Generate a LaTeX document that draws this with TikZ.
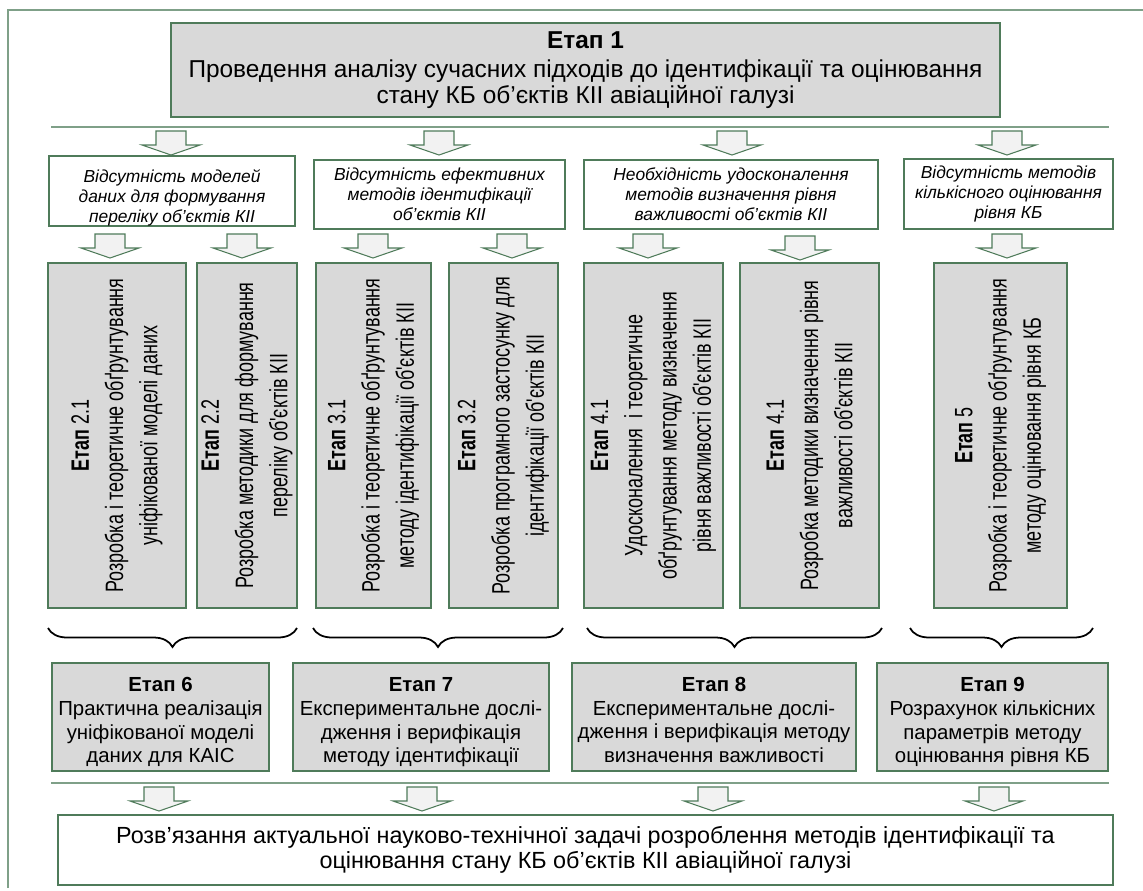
\documentclass[tikz,border=0pt]{standalone}
\usepackage{fontspec}
\setmainfont{Liberation Sans}
\newfontfamily\narrowsans[FakeStretch=0.715]{Liberation Sans}
\usetikzlibrary{decorations.pathreplacing}
\definecolor{boxline}{HTML}{4F7B5A}
\definecolor{sepline}{HTML}{7FA088}
\definecolor{boxfill}{HTML}{D9D9D9}
\definecolor{arrowfill}{HTML}{F2F2F2}

\begin{document}
\begin{tikzpicture}[x=0.02cm,y=-0.02cm]
\tikzstyle{stagebox}=[draw=boxline,fill=boxfill,line width=0.8pt,align=center,inner sep=0pt]
\tikzstyle{probbox}=[draw=boxline,fill=white,line width=0.7pt,align=center,inner sep=0pt,font=\fontsize{9.9}{11.4}\selectfont\itshape]
\tikzstyle{vbox}=[stagebox,rotate=90,minimum width=6.9cm,font=\narrowsans\fontsize{14.3}{19.5}\selectfont]
\tikzstyle{lowbox}=[stagebox,minimum height=2.16cm,font=\fontsize{11.6}{13.5}\selectfont]
\tikzstyle{blockarrow}=[draw=boxline,fill=arrowfill,line width=0.6pt]
\tikzstyle{sep}=[draw=sepline,line width=1pt]
\tikzstyle{groupbrace}=[decorate,decoration={brace,mirror,amplitude=0.38cm},line width=1pt]
\useasboundingbox (0,0) rectangle (1143,890);
\draw[sep] (8,888) -- (8,10) -- (1143,10);

\path (585.5,70) node[stagebox,minimum width=16.58cm,minimum height=1.88cm,font=\fontsize{13.9}{14.6}\selectfont](s1){{\bfseries Етап 1}\\[2.3pt]Проведення аналізу сучасних підходів до ідентифікації та оцінювання\\стану КБ об'єктів КІІ авіаційної галузі};
\draw[sep] (51,127) -- (1109,127);

\path (172,191) node[probbox,minimum width=4.92cm,minimum height=1.24cm](p1){\rule{0pt}{15pt}Відсутність моделей\\даних для формування\\переліку об'єктів КІІ}
 (439.5,194.5) node[probbox,minimum width=5.02cm,minimum height=1.38cm](p2){Відсутність ефективних\\методів ідентифікації\\об'єктів КІІ}
 (731,194.5) node[probbox,minimum width=5.88cm,minimum height=1.38cm](p3){Необхідність удосконалення\\методів визначення рівня\\важливості об'єктів КІІ}
 (1008.5,194) node[probbox,minimum width=4.18cm,minimum height=1.4cm](p4){Відсутність методів\\кількісного оцінювання\\рівня КБ};

\path (117,435.5) node[vbox,minimum height=2.76cm](b21){{\bfseries Етап} 2.1\\Розробка і теоретичне обґрунтування\\уніфікованої моделі даних}
 (247,435.5) node[vbox,minimum height=2cm](b22){{\bfseries Етап} 2.2\\Розробка методики для формування\\переліку об'єктів КІІ}
 (373.5,435.5) node[vbox,minimum height=2.3cm](b31){{\bfseries Етап} 3.1\\Розробка і теоретичне обґрунтування\\методу ідентифікації об'єктів КІІ}
 (503.5,435.5) node[vbox,minimum height=2.18cm](b32){{\bfseries Етап} 3.2\\Розробка програмного застосунку для\\ідентифікації об'єктів КІІ}
 (653.5,435.5) node[vbox,minimum height=2.78cm](b41){{\bfseries Етап} 4.1\\Удосконалення\ \ і теоретичне\\обґрунтування методу визначення\\рівня важливості об'єктів КІІ}
 (809.5,435.5) node[vbox,minimum height=2.78cm](b42){{\bfseries Етап} 4.1\\Розробка методики визначення рівня\\важливості об'єктів КІІ}
 (1000.5,435.5) node[vbox,minimum height=2.66cm](b5){{\bfseries Етап} 5\\Розробка і теоретичне обґрунтування\\методу оцінювання рівня КБ};

\draw[groupbrace] (48,628) -- (297,628);
\draw[groupbrace] (313,628) -- (563,628);
\draw[groupbrace] (587,628) -- (882,628);
\draw[groupbrace] (910,628) -- (1093,628);

\path (160.5,717) node[lowbox,minimum width=4.34cm](s6){\rule{0pt}{14pt}{\bfseries Етап 6}\\Практична реалізація\\уніфікованої моделі\\даних для КАІС}
 (421,717) node[lowbox,minimum width=5.12cm](s7){\rule{0pt}{14pt}{\bfseries Етап 7}\\Експериментальне дослі-\\дження і верифікація\\методу ідентифікації}
 (714,717) node[lowbox,minimum width=5.68cm](s8){\rule{0pt}{14pt}{\bfseries Етап 8}\\Експериментальне дослі-\\дження і верифікація методу\\визначення важливості\rule[-2.5pt]{0pt}{0pt}}
 (992.5,717) node[lowbox,minimum width=4.62cm](s9){\rule{0pt}{14pt}{\bfseries Етап 9}\\Розрахунок кількісних\\параметрів методу\\оцінювання рівня КБ};
\draw[sep] (51,783) -- (1109,783);

\path (585.5,850) node[draw=boxline,fill=white,line width=0.8pt,align=center,inner sep=0pt,minimum width=21.1cm,minimum height=1.4cm,font=\fontsize{13.3}{14.4}\selectfont](res){Розв'язання актуальної науково-технічної задачі розроблення методів ідентифікації та\\оцінювання стану КБ об'єктів КІІ авіаційної галузі};

\foreach \ax/\ay in {171/131,439/131,732/131,1007/131,110/234,242/234,373/234,512/234,648/234,800/236,1007/234,159/787,422/787,713/787,994/787}
 \draw[blockarrow] (\ax,\ay) ++(-15,0) -- ++(30,0) -- ++(0,14) -- ++(14,0) -- ++(-29,10) -- ++(-29,-10) -- ++(14,0) -- cycle;
\end{tikzpicture}
\end{document}
